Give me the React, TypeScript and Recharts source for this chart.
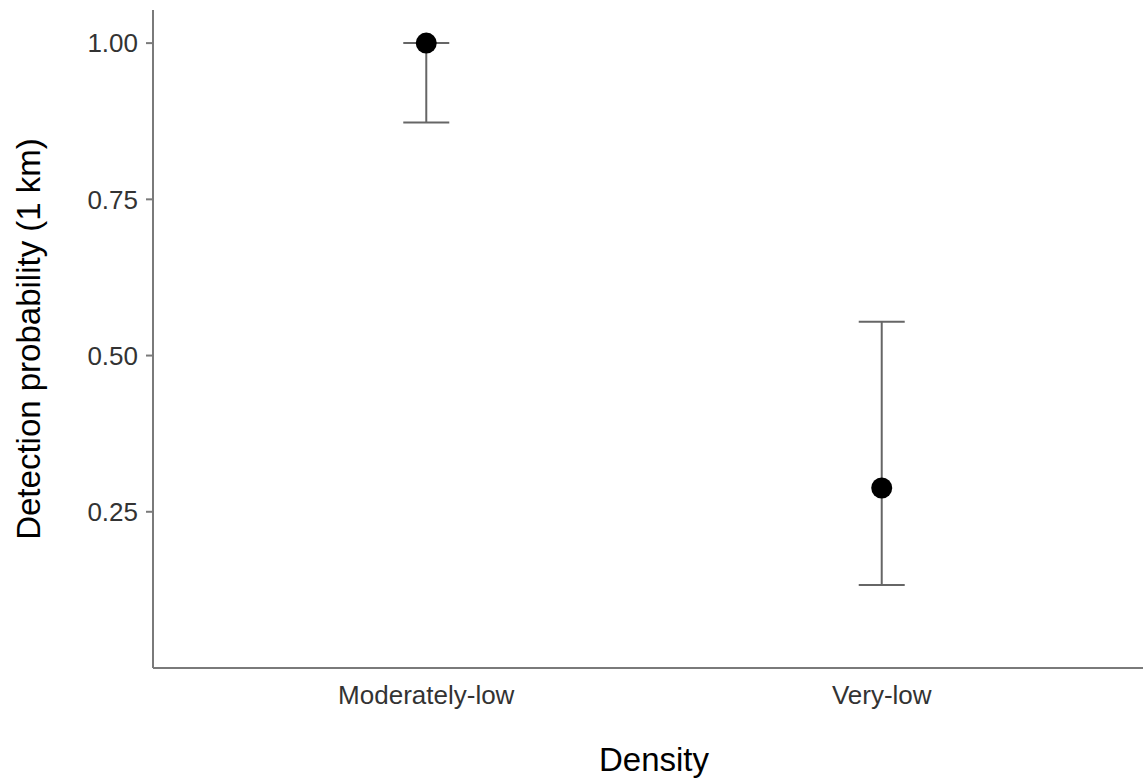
import {
  ScatterChart,
  Scatter,
  XAxis,
  YAxis,
  ErrorBar,
} from "recharts";

const categories = ["Moderately-low", "Very-low"];
const estimates = [1.0, 0.288];
const lowerCI = [0.873, 0.133];
const upperCI = [1.0, 0.554];
const yTicks = [0.25, 0.5, 0.75, 1.0];

const font = "'Liberation Sans', Arial, Helvetica, sans-serif";
const axisGrey = "#7a7a7a";

// ErrorBar wants offsets from the estimate: [down, up]
const points = categories.map((name, i) => ({
  pos: i + 1,
  name,
  value: estimates[i],
  err: [estimates[i] - lowerCI[i], upperCI[i] - estimates[i]],
}));

const Dot = (props: any) => <circle cx={props.cx} cy={props.cy} r={10.5} fill="#000" />;

export default function App() {
  return (
    <div
      style={{
        position: "absolute",
        left: 0,
        top: 0,
        width: 1143,
        height: 780,
        overflow: "hidden",
        background: "#fff",
      }}
    >
      <ScatterChart
        width={1155}
        height={780}
        margin={{ top: 10, right: 0, bottom: 0, left: 0 }}
        style={{ fontFamily: font }}
      >
        <XAxis
          type="number"
          dataKey="pos"
          domain={[0.4, 2.6]}
          ticks={[1, 2]}
          tickFormatter={(v) => categories[v - 1] ?? ""}
          allowDataOverflow
          height={112}
          tickLine={false}
          tickSize={6}
          tickMargin={12}
          axisLine={{ stroke: axisGrey, strokeWidth: 2 }}
          tick={{ fontSize: 26, fill: "#333", fontFamily: font }}
          label={{
            value: "Density",
            position: "insideBottom",
            offset: 9,
            style: { fontSize: 33, fill: "#000", fontFamily: font },
          }}
        />
        <YAxis
          type="number"
          dataKey="value"
          domain={[0, 1.053]}
          ticks={yTicks}
          allowDataOverflow
          width={153}
          tickFormatter={(v) => v.toFixed(2)}
          tickSize={7}
          tickMargin={8}
          tickLine={{ stroke: axisGrey, strokeWidth: 2 }}
          axisLine={{ stroke: axisGrey, strokeWidth: 2 }}
          tick={{ fontSize: 26, fill: "#333", fontFamily: font }}
          label={{
            value: "Detection probability (1 km)",
            angle: -90,
            position: "insideLeft",
            offset: 28,
            style: { fontSize: 33, fill: "#000", fontFamily: font, textAnchor: "middle" },
          }}
        />
        <Scatter data={points} shape={Dot} isAnimationActive={false}>
          <ErrorBar
            dataKey="err"
            direction="y"
            width={23}
            stroke="#666"
            strokeWidth={2}
            isAnimationActive={false}
          />
        </Scatter>
      </ScatterChart>
    </div>
  );
}
